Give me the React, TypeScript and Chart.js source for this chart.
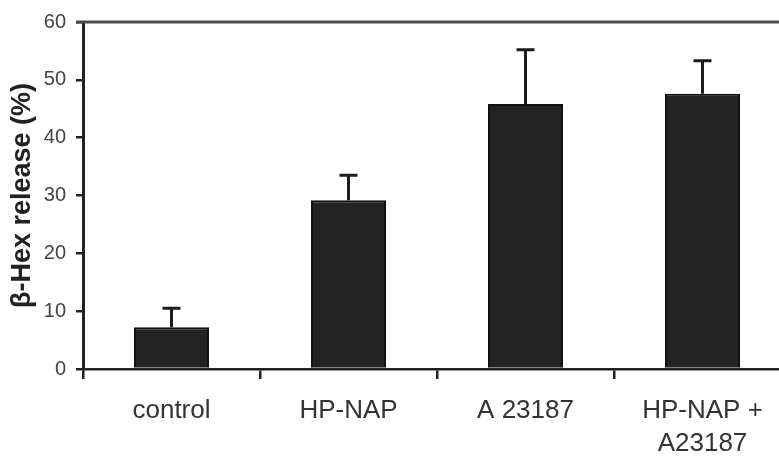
import React, { useEffect, useRef } from "react";
import { Chart, registerables } from "chart.js";

Chart.register(...registerables);

const categories: (string | string[])[] = ["control", "HP-NAP", "A 23187", ["HP-NAP +", "A23187"]];
const values = [7.2, 29.2, 45.8, 47.6];
const errors = [3.3, 4.3, 9.4, 5.7];
const yTicks = [0, 10, 20, 30, 40, 50, 60];
const yTitle = "β-Hex release (%)";

const FONT = "'Liberation Sans', Arial, sans-serif";

const errorBarPlugin = {
  id: "errorBars",
  afterDatasetsDraw(chart: any) {
    const { ctx } = chart;
    const yScale = chart.scales.y;
    const meta = chart.getDatasetMeta(0);
    ctx.save();
    ctx.strokeStyle = "#1c1c1c";
    ctx.lineWidth = 3;
    meta.data.forEach((el: any, i: number) => {
      const yTop = yScale.getPixelForValue(values[i] + errors[i]);
      const yBase = el.y;
      ctx.beginPath();
      ctx.moveTo(el.x, yBase);
      ctx.lineTo(el.x, yTop);
      ctx.moveTo(el.x - 9, yTop);
      ctx.lineTo(el.x + 9, yTop);
      ctx.stroke();
    });
    ctx.restore();
  },
};

const topBorderPlugin = {
  id: "topBorder",
  afterDraw(chart: any) {
    const { ctx, chartArea } = chart;
    ctx.save();
    ctx.strokeStyle = "#4a4a4a";
    ctx.lineWidth = 3;
    ctx.beginPath();
    ctx.moveTo(chartArea.left - 7, chartArea.top);
    ctx.lineTo(chart.width, chartArea.top);
    ctx.stroke();
    ctx.restore();
  },
};

export default function App() {
  const canvasRef = useRef<HTMLCanvasElement | null>(null);

  useEffect(() => {
    if (!canvasRef.current) return;
    const chart = new Chart(canvasRef.current, {
      type: "bar",
      data: {
        labels: categories as any,
        datasets: [
          {
            data: values,
            backgroundColor: "#232323",
            borderColor: "#111111",
            borderWidth: 2,
            categoryPercentage: 1,
            barPercentage: 0.424,
          },
        ],
      },
      options: {
        responsive: false,
        animation: false,
        layout: { padding: { top: 20, right: 9, bottom: 0, left: 0 } },
        plugins: { legend: { display: false }, tooltip: { enabled: false } },
        scales: {
          x: {
            offset: true,
            afterFit: (s: any) => {
              s.height = 97;
            },
            grid: {
              offset: true,
              drawOnChartArea: false,
              drawTicks: true,
              tickLength: 10,
              color: "#222",
              lineWidth: 2.5,
            },
            border: { color: "#222", width: 2.5 },
            ticks: {
              color: "#333",
              padding: 16,
              maxRotation: 0,
              autoSkip: false,
              font: { family: FONT, size: 26, lineHeight: 1.25 },
            },
          },
          y: {
            min: 0,
            max: 60,
            afterFit: (s: any) => {
              s.width = 83;
            },
            afterBuildTicks: (s: any) => {
              s.ticks = yTicks.map((v) => ({ value: v }));
            },
            grid: {
              drawOnChartArea: false,
              drawTicks: true,
              tickLength: 7,
              color: "#222",
              lineWidth: 2.5,
            },
            border: { color: "#222", width: 3 },
            ticks: {
              color: "#444",
              padding: 10,
              font: { family: FONT, size: 20 },
            },
            title: {
              display: true,
              text: yTitle,
              color: "#222",
              padding: { top: 6, bottom: 0 },
              font: { family: FONT, size: 27, weight: "bold" },
            },
          },
        },
      },
      plugins: [errorBarPlugin, topBorderPlugin],
    });
    return () => chart.destroy();
  }, []);

  return (
    <div
      style={{
        position: "fixed",
        left: 0,
        top: 0,
        width: 779,
        height: 466,
        overflow: "hidden",
        background: "#fff",
      }}
    >
      <canvas ref={canvasRef} width={800} height={466} style={{ display: "block" }} />
    </div>
  );
}
